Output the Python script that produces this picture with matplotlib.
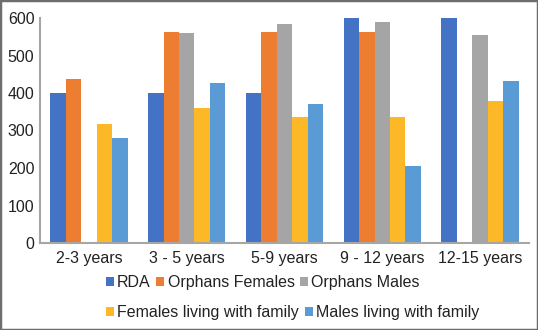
import matplotlib.pyplot as plt
import numpy as np
from matplotlib.patches import Rectangle

plt.rcParams['font.family'] = ['Liberation Sans', 'DejaVu Sans']

categories = ['2-3 years', '3 - 5 years', '5-9 years', '9 - 12 years', '12-15 years']
series_names = ['RDA', 'Orphans Females', 'Orphans Males',
                'Females living with family', 'Males living with family']
rda = [400, 400, 400, 600, 600]
orphans_females = [437, 563, 562, 562, np.nan]
orphans_males = [np.nan, 559, 584, 589, 556]
females_family = [317, 360, 335, 335, 379]
males_family = [280, 427, 372, 205, 431]
colors = ['#4472C4', '#ED7D31', '#A5A5A5', '#FDB827', '#5B9BD5']

data = [rda, orphans_females, orphans_males, females_family, males_family]

fig = plt.figure(figsize=(5.38, 3.30), dpi=100)
ax = fig.add_axes([40/538, 1-243/330, 489/538, 225/330])

x = np.arange(len(categories))
w = 0.158
handles = []
for i, (vals, c) in enumerate(zip(data, colors)):
    b = ax.bar(x + (i - 2) * w, vals, w, color=c, label=series_names[i])
    handles.append(b)

ax.set_xlim(-0.5, 4.5)
ax.set_ylim(0, 600)
ax.set_yticks([0, 100, 200, 300, 400, 500, 600])
ax.set_xticks(x)
ax.set_xticklabels(categories)
ax.tick_params(length=0, labelsize=11.5, colors='#222222', pad=6)
ax.tick_params(axis='y', pad=4)
for s in ['top', 'right']:
    ax.spines[s].set_visible(False)
for s in ['left', 'bottom']:
    ax.spines[s].set_color('#A6A6A6')
    ax.spines[s].set_linewidth(1.5)

leg_kw = dict(frameon=False, fontsize=11.5, handlelength=0.5, handleheight=0.5,
              handletextpad=0.2, columnspacing=0.35, borderaxespad=0, borderpad=0,
              loc='upper left', bbox_transform=fig.transFigure)
leg1 = fig.legend(handles[:3], series_names[:3], ncol=3,
                  bbox_to_anchor=(106/538, 1-275/330), **leg_kw)
leg2 = fig.legend(handles[3:], series_names[3:], ncol=2,
                  bbox_to_anchor=(106/538, 1-305/330), **leg_kw)
for leg in (leg1, leg2):
    for t in leg.get_texts():
        t.set_color('#222222')

fig.patches.append(Rectangle((0, 0), 1, 1, transform=fig.transFigure, fill=False,
                             edgecolor='#6E6E6E', linewidth=2.5))

fig.savefig('out.png', dpi=100)
